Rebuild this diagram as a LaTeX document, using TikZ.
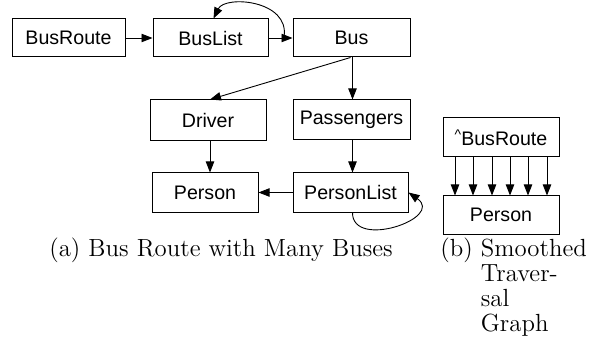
\documentclass[tikz,border=0pt]{standalone}
\usepackage{fontspec}
\newfontfamily\boxfont{Liberation Sans}
\usetikzlibrary{arrows.meta}
\tikzset{
  cls/.style={draw=black, line width=0.5pt, inner sep=0pt, font=\boxfont\fontsize{9.8}{11}\selectfont},
  arr/.style={draw=black, line width=0.45pt, -{Triangle[length=5.5pt,width=4.2pt]}},
  captext/.style={inner sep=0pt, font=\fontsize{12.4}{12.5}\selectfont}
}
\begin{document}
\begin{tikzpicture}[x=0.5pt,y=-0.5pt]
\useasboundingbox (0,0) rectangle (597,341);
% (a)
\node[cls, minimum width=56.5pt, minimum height=19pt] (busroute) at (68.5,38) {BusRoute};
\node[cls, minimum width=57.5pt, minimum height=19pt] (buslist) at (210.5,38) {BusList};
\node[cls, minimum width=58.5pt, minimum height=19pt] (bus) at (351.5,38) {Bus};
\node[cls, minimum width=58pt, minimum height=20.5pt] (driver) at (208,120.5) {Driver};
\node[cls, minimum width=58.5pt, minimum height=20pt] (passengers) at (351.5,120) {Passengers};
\node[cls, minimum width=53pt, minimum height=19.5pt] (person) at (205,192.5) {Person};
\node[cls, minimum width=57.5pt, minimum height=19.5pt] (personlist) at (350.5,192.5) {PersonList};
\coordinate (loopstart) at (284,37);
\draw[arr] (busroute) -- (buslist);
\draw[arr] (buslist) -- (bus);
\draw[arr] (loopstart) .. controls (290,0) and (225,-5) .. ([xshift=1.5pt]buslist.north);
\draw[arr] ([xshift=-0.5pt]bus.south) -- ([xshift=1pt]driver.north);
\draw[arr] ([xshift=0.5pt]bus.south) -- ([xshift=0.5pt]passengers.south |- passengers.north);
\draw[arr] ([xshift=1pt]driver.south) -- ([xshift=1pt]driver.south |- person.north);
\draw[arr] ([xshift=0.5pt]passengers.south) -- ([xshift=0.5pt]passengers.south |- personlist.north);
\draw[arr] (personlist) -- (person);
\draw[arr] ([xshift=1pt]personlist.south) .. controls (352,250) and (445,218) .. (personlist.east);
\node[captext, anchor=base] (capa) at (221,256) {(a) Bus Route with Many Buses};
% (b)
\node[cls, minimum width=58pt, minimum height=19.5pt] (hatroute) at (501,137.5) {\raisebox{3pt}{\fontsize{7}{7}\selectfont\textasciicircum}BusRoute};
\node[cls, minimum width=58pt, minimum height=19pt] (person2) at (501,215) {Person};
\foreach \dx in {-46,-28,-9,9,27,46}{
  \draw[arr] ([xshift=\dx*0.5pt]hatroute.south) -- ([xshift=\dx*0.5pt]person2.north);
}
\node[captext, anchor=base west] (capb) at (440,256) {\begin{tabular}[t]{@{}l@{\ }l@{}}(b) & Smoothed\\ & Traver-\\ & sal\\ & Graph\end{tabular}};
\end{tikzpicture}
\end{document}
